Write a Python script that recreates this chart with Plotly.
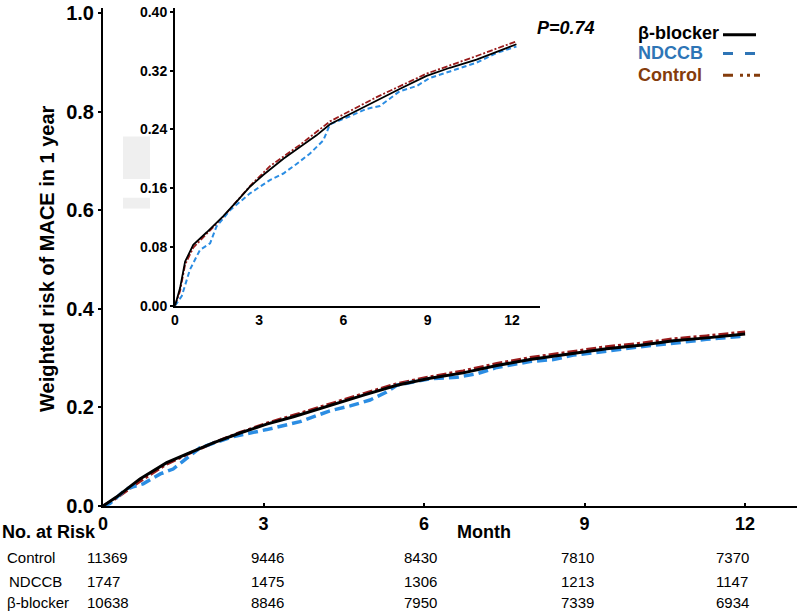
import plotly.graph_objects as go

# ---------------- data ----------------
# main panel
bb_t = [0, 0.25, 0.69, 1.19, 1.56, 2.06, 2.56, 3.06, 3.56, 4.06, 4.55, 4.87, 5.49, 6.11, 6.73, 7.36, 7.98, 8.79, 9.41, 10.04, 10.66, 11.28, 11.9, 12.0]
bb_r = [0, 0.018, 0.055, 0.088, 0.105, 0.128, 0.148, 0.166, 0.181, 0.198, 0.214, 0.225, 0.245, 0.259, 0.270, 0.285, 0.297, 0.310, 0.319, 0.326, 0.335, 0.341, 0.348, 0.349]

nd_t = [0, 0.13, 0.44, 0.75, 1.07, 1.31, 1.81, 2.44, 3.06, 3.68, 4.24, 4.62, 4.99, 5.3, 5.49, 6.11, 6.61, 6.98, 7.36, 7.98, 8.42, 8.79, 9.41, 10.04, 10.66, 11.28, 11.9, 12.0]
nd_r = [0, 0.005, 0.035, 0.045, 0.065, 0.075, 0.118, 0.141, 0.155, 0.171, 0.193, 0.203, 0.215, 0.231, 0.245, 0.258, 0.261, 0.268, 0.281, 0.293, 0.297, 0.306, 0.314, 0.323, 0.330, 0.338, 0.344, 0.345]

ct_t = [0, 0.25, 0.69, 1.19, 1.56, 2.06, 2.56, 3.06, 3.56, 4.06, 4.55, 4.87, 5.49, 6.11, 6.73, 7.36, 7.98, 8.79, 9.41, 10.04, 10.66, 11.28, 11.9, 12.0]
ct_r = [0, 0.016, 0.050, 0.085, 0.104, 0.128, 0.149, 0.168, 0.184, 0.201, 0.217, 0.228, 0.248, 0.262, 0.274, 0.289, 0.301, 0.314, 0.323, 0.330, 0.339, 0.345, 0.352, 0.353]

# inset panel
ibb_t = [0, 0.18, 0.36, 0.65, 1.13, 1.72, 2.25, 2.67, 3.14, 3.86, 4.45, 5.04, 5.52, 6.23, 7.18, 8.0, 8.96, 9.79, 10.74, 11.45, 12.16]
ibb_r = [0, 0.024, 0.060, 0.083, 0.100, 0.122, 0.144, 0.162, 0.178, 0.200, 0.216, 0.232, 0.247, 0.261, 0.279, 0.295, 0.313, 0.324, 0.335, 0.346, 0.356]

ind_t = [0, 0.24, 0.53, 0.89, 1.25, 1.48, 1.96, 2.67, 3.38, 3.86, 4.33, 4.8, 5.28, 5.52, 6.23, 6.82, 7.3, 8.0, 8.6, 9.07, 9.79, 10.74, 11.45, 12.16]
ind_r = [0, 0.013, 0.049, 0.076, 0.085, 0.108, 0.130, 0.153, 0.171, 0.180, 0.193, 0.207, 0.225, 0.247, 0.258, 0.268, 0.272, 0.292, 0.299, 0.310, 0.319, 0.331, 0.344, 0.353]

ict_t = [0, 0.18, 0.36, 0.65, 1.13, 1.72, 2.67, 3.38, 4.45, 5.52, 7.18, 8.96, 10.74, 12.16]
ict_r = [0, 0.020, 0.056, 0.079, 0.098, 0.121, 0.163, 0.190, 0.219, 0.251, 0.284, 0.316, 0.340, 0.360]

# table of numbers at risk
risk_months = [0, 3, 6, 9, 12]
risk_groups = ["Control", "NDCCB", "β-blocker"]
risk_control = [11369, 9446, 8430, 7810, 7370]
risk_ndccb = [1747, 1475, 1306, 1213, 1147]
risk_bb = [10638, 8846, 7950, 7339, 6934]

main_xticks = [0, 3, 6, 9, 12]
main_yticks = [0.0, 0.2, 0.4, 0.6, 0.8, 1.0]
inset_yticks = [0.0, 0.08, 0.16, 0.24, 0.32, 0.40]

# ---------------- styling / layout helpers ----------------
FONT = "Arial, Liberation Sans, sans-serif"
BLACK = "#000000"
BLUE = "#2b8de3"
RED = "#9a1c1c"
BLUE_TXT = "#2e75b6"
BROWN_TXT = "#843c0c"

L, R, T, B = 103, 797, 7, 506  # plot area in pixels
W, H = 800, 615
TOP = 2  # top of the drawing area in pixels


def px(p):
    return (p - L) / (R - L)


def py(p):
    return (B - p) / (B - TOP)


fig = go.Figure()

# main curves
fig.add_trace(go.Scatter(x=ct_t, y=ct_r, mode="lines", name="Control",
                         line=dict(color=RED, width=3, dash="10px,3px,3px,3px")))
fig.add_trace(go.Scatter(x=nd_t, y=nd_r, mode="lines", name="NDCCB",
                         line=dict(color=BLUE, width=3.5, dash="10px,5px")))
fig.add_trace(go.Scatter(x=bb_t, y=bb_r, mode="lines", name="β-blocker",
                         line=dict(color=BLACK, width=3)))

# inset curves
fig.add_trace(go.Scatter(x=ict_t, y=ict_r, mode="lines", xaxis="x2", yaxis="y2",
                         line=dict(color=RED, width=1.8, dash="6px,2px,2px,2px")))
fig.add_trace(go.Scatter(x=ind_t, y=ind_r, mode="lines", xaxis="x2", yaxis="y2",
                         line=dict(color=BLUE, width=2, dash="5px,3px")))
fig.add_trace(go.Scatter(x=ibb_t, y=ibb_r, mode="lines", xaxis="x2", yaxis="y2",
                         line=dict(color=BLACK, width=1.8)))

axis_common = dict(showgrid=False, zeroline=False, showline=True,
                   linecolor="black", linewidth=2, tickcolor="black", tickwidth=2,
                   ticklabeloverflow="allow")

main_top = 1.0 + (T - TOP) / (B - T)          # 1.0 sits at pixel T
inset_bottom_px, inset_top_px = 303.3, 6.0    # 0.00 and 0.40 of the inset
inset_top = 0.40 + 0.40 * (inset_top_px - TOP) / (inset_bottom_px - inset_top_px)

fig.update_layout(
    width=W, height=H,
    margin=dict(l=L, r=W - R, t=TOP, b=H - B, pad=0),
    paper_bgcolor="white", plot_bgcolor="white",
    showlegend=False,
    font=dict(family=FONT, color="black"),
    xaxis=dict(range=[0, 12.97], tickvals=main_xticks, ticks="inside", ticklen=3,
               tickfont=dict(size=18, weight="bold", family=FONT), domain=[0, 1],
               **axis_common),
    yaxis=dict(range=[0, main_top], tickvals=main_yticks, tickformat=".1f", ticks="outside",
               ticklen=3, tickfont=dict(size=20, weight="bold", family=FONT),
               **axis_common),
    xaxis2=dict(range=[0, 13.0], tickvals=main_xticks, ticks="", anchor="y2",
                domain=[px(175), px(540)],
                tickfont=dict(size=14, weight="bold", family=FONT), **axis_common),
    yaxis2=dict(range=[0, inset_top], tickvals=inset_yticks, tickformat=".2f", ticks="outside",
                ticklen=3, anchor="x2", domain=[py(inset_bottom_px), 1.0],
                tickfont=dict(size=14, weight="bold", family=FONT), **axis_common),
)

shapes = []
# light grey artefact blocks
for (x0, y0, x1, y1) in [(123, 132, 150, 175), (123, 194, 150, 205)]:
    shapes.append(dict(type="rect", xref="paper", yref="paper", x0=px(x0), x1=px(x1),
                       y0=py(y1), y1=py(y0), fillcolor="#efefef", line=dict(width=0),
                       layer="below"))
# legend line samples
shapes.append(dict(type="line", xref="paper", yref="paper", x0=px(723), x1=px(756),
                   y0=py(29), y1=py(29), line=dict(color=BLACK, width=3)))
shapes.append(dict(type="line", xref="paper", yref="paper", x0=px(723), x1=px(755),
                   y0=py(48), y1=py(48), line=dict(color=BLUE_TXT, width=3, dash="10px,12px")))
shapes.append(dict(type="line", xref="paper", yref="paper", x0=px(723), x1=px(760),
                   y0=py(70), y1=py(70), line=dict(color=BROWN_TXT, width=3,
                                                    dash="10px,7px,3px,4px,3px,4px")))
fig.update_layout(shapes=shapes)

ann = []
# y-axis title
ann.append(dict(text="<b>Weighted risk of MACE in 1 year</b>", xref="paper", yref="paper",
                x=px(47), y=py(256), textangle=-90, showarrow=False,
                xanchor="center", yanchor="middle", font=dict(size=20, family=FONT)))
# p-value
ann.append(dict(text="<b><i>P=0.74</i></b>", xref="paper", yref="paper", x=px(566), y=py(22),
                showarrow=False, xanchor="center", yanchor="middle", font=dict(size=18, family=FONT)))
# legend labels
for label, color, yy in [("β-blocker", BLACK, 27), ("NDCCB", BLUE_TXT, 48), ("Control", BROWN_TXT, 70)]:
    ann.append(dict(text=f"<b>{label}</b>", xref="paper", yref="paper", x=px(636), y=py(yy),
                    showarrow=False, xanchor="left", yanchor="middle",
                    font=dict(size=18, color=color, family=FONT)))
# x-axis title
ann.append(dict(text="<b>Month</b>", xref="paper", yref="paper", x=px(484), y=py(532),
                showarrow=False, xanchor="center", yanchor="middle", font=dict(size=18, family=FONT)))
# number at risk table
ann.append(dict(text="<b>No. at Risk</b>", xref="paper", yref="paper", x=px(0), y=py(532),
                showarrow=False, xanchor="left", yanchor="middle", font=dict(size=18, family=FONT)))
col_shift = [-18, -15, -22, -26, -31]
for grp, vals, yy, lx in [("Control", risk_control, 558, 5),
                          ("NDCCB", risk_ndccb, 582, 7),
                          ("β-blocker", risk_bb, 604, 5)]:
    ann.append(dict(text=grp, xref="paper", yref="paper", x=px(lx), y=py(yy), showarrow=False,
                    xanchor="left", yanchor="middle", font=dict(size=15, family=FONT)))
    for m, v, sh in zip(risk_months, vals, col_shift):
        ann.append(dict(text=str(v), xref="x", yref="paper", x=m, y=py(yy), xshift=sh,
                        showarrow=False, xanchor="left", yanchor="middle",
                        font=dict(size=15, family=FONT)))
fig.update_layout(annotations=ann)

fig.write_html("out.html", config={"displayModeBar": False},
               post_script="document.body.style.margin='0';document.body.style.padding='0';")
